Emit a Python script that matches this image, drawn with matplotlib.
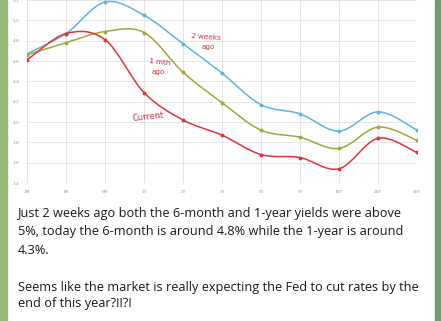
import matplotlib
matplotlib.use("Agg")
import matplotlib.pyplot as plt
from matplotlib.path import Path
from matplotlib.patches import PathPatch, Rectangle
import numpy as np

tenors = ["1M", "3M", "6M", "1Y", "2Y", "3Y", "5Y", "7Y", "10Y", "20Y", "30Y"]
two_weeks_ago = [4.67, 4.87, 5.18, 5.05, 4.77, 4.48, 4.17, 4.08, 3.91, 4.10, 3.92]
one_month_ago = [4.66, 4.78, 4.89, 4.88, 4.49, 4.19, 3.92, 3.85, 3.74, 3.95, 3.82]
current = [4.61, 4.87, 4.81, 4.29, 4.02, 3.87, 3.68, 3.65, 3.54, 3.84, 3.70]
yticks = [3.4, 3.6, 3.8, 4.0, 4.2, 4.4, 4.6, 4.8, 5.0, 5.2]

W, H = 441, 321
fig = plt.figure(figsize=(W / 100, H / 100), dpi=100)
fig.patch.set_facecolor("white")

# side strips (chat background)
fig.patches.append(Rectangle((0, 0), 7 / W, 1, transform=fig.transFigure, color="#98bb78", zorder=0))
fig.patches.append(Rectangle((435 / W, 0), 1 - 435 / W, 1, transform=fig.transFigure, color="#6f9c6c", zorder=0))

ax = fig.add_axes([27 / W, 1 - 183 / H, (417 - 27) / W, 183 / H])
ax.set_facecolor("white")
x = np.arange(len(tenors))
ax.set_xlim(0, len(tenors) - 1)
ax.set_ylim(3.4, 5.2)
ax.set_xticks(x)
ax.set_xticklabels(tenors)
ax.set_yticks(yticks)
ax.set_yticklabels([f"{v:.1f}" for v in yticks])
for s in ax.spines.values():
    s.set_visible(False)
ax.grid(True, color="#e6e6e6", linewidth=0.7)
ax.tick_params(length=0, labelsize=3.2, colors="#9a9a9a", pad=5)


def smooth(ax, xs, ys, color):
    pts = list(zip(xs, ys))
    verts = [pts[0]]
    codes = [Path.MOVETO]
    n = len(pts)
    for i in range(n - 1):
        p0 = pts[i - 1] if i > 0 else pts[i]
        p1 = pts[i]
        p2 = pts[i + 1]
        p3 = pts[i + 2] if i + 2 < n else pts[i + 1]
        c1 = (p1[0] + (p2[0] - p0[0]) / 6, p1[1] + (p2[1] - p0[1]) / 6)
        c2 = (p2[0] - (p3[0] - p1[0]) / 6, p2[1] - (p3[1] - p1[1]) / 6)
        verts += [c1, c2, p2]
        codes += [Path.CURVE4] * 3
    ax.add_patch(PathPatch(Path(verts, codes), fill=False, edgecolor=color, linewidth=1.1, zorder=3))
    ax.plot(xs, ys, linestyle="none", marker="o", markersize=1.8, color=color, zorder=4)


smooth(ax, x, two_weeks_ago, "#5fb4e6")
smooth(ax, x, one_month_ago, "#a4a63a")
smooth(ax, x, current, "#e2343c")

ann = "#cf2f45"
def ftext(px, py, s, **kw):
    fig.text(px / W, 1 - py / H, s, **kw)

ftext(206, 37, "2 weeks", color=ann, fontsize=5.2, ha="center", va="center", rotation=-4)
ftext(208, 47, "ago", color=ann, fontsize=5.2, ha="center", va="center")
ftext(160, 62, "1 mth", color=ann, fontsize=5.2, ha="center", va="center", rotation=-6)
ftext(158, 72, "ago", color=ann, fontsize=5.2, ha="center", va="center")
ftext(148, 117, "Current", color=ann, fontsize=6, ha="center", va="center", rotation=6)

lines = [
    (214, "Just 2 weeks ago both the 6-month and 1-year yields were above"),
    (232, "5%, today the 6-month is around 4.8% while the 1-year is around"),
    (250, "4.3%."),
    (287, "Seems like the market is really expecting the Fed to cut rates by the"),
    (304, "end of this year?!!?!"),
]
for py, s in lines:
    ftext(18, py, s, fontsize=9.15, family="Open Sans", color="#1a1a1a", ha="left", va="center")

fig.savefig("out.png", dpi=100, facecolor=fig.get_facecolor())
